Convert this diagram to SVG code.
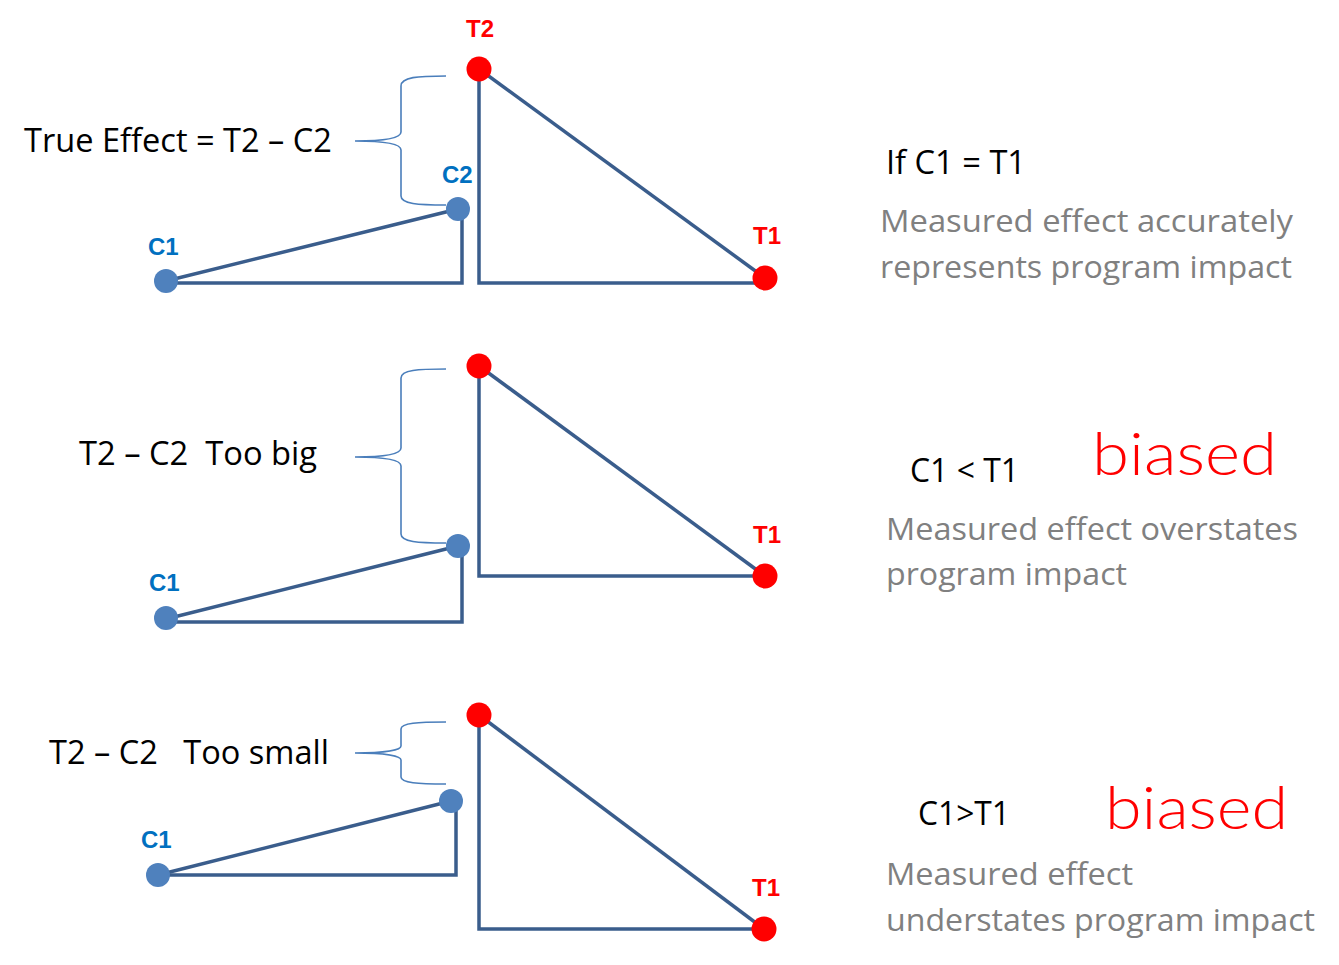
<svg xmlns="http://www.w3.org/2000/svg" width="1339" height="965" viewBox="0 0 1339 965">
<style>
.ln{fill:none;stroke:#3A5D8C;stroke-width:3.5;stroke-linejoin:miter}
.br{fill:none;stroke:#4A7EBB;stroke-width:1.6}
.cn{fill:#4F81BD}
.tn{fill:#FF0000}
.lbl{font-family:"Liberation Sans",Arial,sans-serif;font-weight:bold;font-size:24px}
.lb{fill:#0070C0}
.lr{fill:#FF0000}
.big{font-family:"Open Sans","Liberation Sans",Arial,sans-serif;font-size:32px;fill:#000}
.gr{font-family:"Open Sans","Liberation Sans",Arial,sans-serif;font-size:31px;fill:#808080}
.bias{font-family:"Lato","Liberation Sans",Arial,sans-serif;font-size:60px;font-weight:300;fill:#FF0000}
</style>
<rect width="1339" height="965" fill="#ffffff"/>
<g id="connectors">
<polyline class="ln" points="166,283 462,283 462,209"/>
<line class="ln" x1="166" y1="281" x2="458" y2="209"/>
<polyline class="ln" points="479,69 479,283 765,283"/>
<line class="ln" x1="479" y1="69" x2="765" y2="278"/>
<path class="br" d="M446,76 C418,76 401,77 401,86 L401,132 C401,138 385,141 355,141 C385,141 401,144 401,150 L401,196 C401,204 418,205 446,205"/>
<polyline class="ln" points="166,622 462,622 462,546"/>
<line class="ln" x1="166" y1="619" x2="458" y2="546"/>
<polyline class="ln" points="479,366 479,576 765,576"/>
<line class="ln" x1="479" y1="366" x2="765" y2="576"/>
<path class="br" d="M446,369 C418,369 401,370 401,378 L401,448 C401,454 385,457 355,457 C385,457 401,460 401,466 L401,534 C401,542 418,543 446,543"/>
<polyline class="ln" points="158,875 456,875 456,801"/>
<line class="ln" x1="158" y1="875" x2="451" y2="801"/>
<polyline class="ln" points="479,715 479,929 764,929"/>
<line class="ln" x1="479" y1="715" x2="764" y2="929"/>
<path class="br" d="M446,722 C418,722 401,723 401,729 L401,746 C401,750 385,753 355,753 C385,753 401,756 401,760 L401,777 C401,783 418,784 446,784"/>
</g>
<g id="panel1-nodes">
<g id="p1-C1"><circle class="cn" cx="166" cy="281" r="12"/><text class="lbl lb" x="148" y="255">C1</text></g>
<g id="p1-C2"><circle class="cn" cx="458" cy="209" r="12"/><text class="lbl lb" x="442" y="183">C2</text></g>
<g id="p1-T2"><circle class="tn" cx="479" cy="69" r="12.5"/><text class="lbl lr" x="466" y="37">T2</text></g>
<g id="p1-T1"><circle class="tn" cx="765" cy="278" r="12.5"/><text class="lbl lr" x="753" y="244">T1</text></g>
</g>
<g id="panel2-nodes">
<g id="p2-C1"><circle class="cn" cx="166" cy="618" r="12"/><text class="lbl lb" x="149" y="591">C1</text></g>
<g id="p2-C2"><circle class="cn" cx="458" cy="546" r="12"/></g>
<g id="p2-T2"><circle class="tn" cx="479" cy="366" r="12.5"/></g>
<g id="p2-T1"><circle class="tn" cx="765" cy="576" r="12.5"/><text class="lbl lr" x="753" y="543">T1</text></g>
</g>
<g id="panel3-nodes">
<g id="p3-C1"><circle class="cn" cx="158" cy="875" r="12"/><text class="lbl lb" x="141" y="848">C1</text></g>
<g id="p3-C2"><circle class="cn" cx="451" cy="801" r="12"/></g>
<g id="p3-T2"><circle class="tn" cx="479" cy="715" r="12.5"/></g>
<g id="p3-T1"><circle class="tn" cx="764" cy="929" r="12.5"/><text class="lbl lr" x="752" y="896">T1</text></g>
</g>
<g id="left-labels">
<text class="big" x="24" y="152" textLength="308" lengthAdjust="spacingAndGlyphs">True Effect = T2 – C2</text>
<text class="big" x="79" y="465" textLength="238" lengthAdjust="spacingAndGlyphs" xml:space="preserve">T2 – C2  Too big</text>
<text class="big" x="49" y="764" textLength="280" lengthAdjust="spacingAndGlyphs" xml:space="preserve">T2 – C2   Too small</text>
</g>
<g id="right-text">
<text class="big" x="886" y="174" textLength="140" lengthAdjust="spacingAndGlyphs">If C1 = T1</text>
<text class="gr" x="880" y="232" textLength="413" lengthAdjust="spacingAndGlyphs">Measured effect accurately</text>
<text class="gr" x="880" y="278" textLength="412" lengthAdjust="spacingAndGlyphs">represents program impact</text>
<text class="big" x="910" y="482" textLength="109" lengthAdjust="spacingAndGlyphs">C1 &lt; T1</text>
<text class="bias" x="1092" y="475" textLength="185" lengthAdjust="spacingAndGlyphs">biased</text>
<text class="gr" x="886" y="540" textLength="412" lengthAdjust="spacingAndGlyphs">Measured effect overstates</text>
<text class="gr" x="886" y="585" textLength="241" lengthAdjust="spacingAndGlyphs">program impact</text>
<text class="big" x="918" y="825" textLength="92" lengthAdjust="spacingAndGlyphs">C1&gt;T1</text>
<text class="bias" x="1105" y="829" textLength="183" lengthAdjust="spacingAndGlyphs">biased</text>
<text class="gr" x="886" y="885" textLength="247" lengthAdjust="spacingAndGlyphs">Measured effect</text>
<text class="gr" x="886" y="931" textLength="429" lengthAdjust="spacingAndGlyphs">understates program impact</text>
</g>
</svg>
